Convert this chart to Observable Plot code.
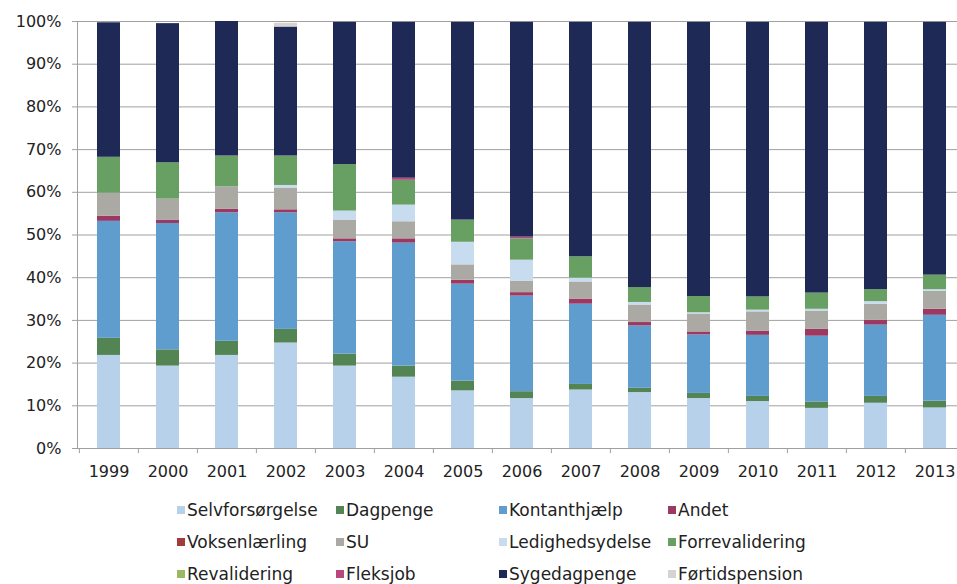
<!DOCTYPE html>
<html>
<head>
<meta charset="utf-8">
<script src="https://cdn.jsdelivr.net/npm/d3@7"></script>
<script src="https://cdn.jsdelivr.net/npm/@observablehq/plot@0.6"></script>
<style>
  html, body { margin: 0; padding: 0; background: #fff; overflow: hidden; }
  #wrap { position: relative; width: 957px; height: 584px; font-family: "DejaVu Sans", Verdana, sans-serif; }
  #legend { position: absolute; left: 177px; top: 494px; display: grid;
    grid-template-columns: 159px 163px 169px 160px; grid-auto-rows: 32px;
    font-size: 17px; color: #222; }
  .item { display: flex; align-items: center; white-space: nowrap; }
  .sw { width: 8px; height: 8px; margin-right: 2px; flex: none; }
</style>
</head>
<body>
<div id="wrap">
  <div id="chart"></div>
  <div id="legend"></div>
</div>
<script>
const years = ["1999","2000","2001","2002","2003","2004","2005","2006","2007","2008","2009","2010","2011","2012","2013"];

const seriesNames = ["Selvforsørgelse","Dagpenge","Kontanthjælp","Andet","Voksenlærling","SU","Ledighedsydelse","Forrevalidering","Revalidering","Fleksjob","Sygedagpenge","Førtidspension"];
const seriesColors = ["#b8d1ea","#538453","#5f9dcf","#9b3963","#a03c3c","#aaa9a4","#c8dcf0","#68a063","#9bb766","#b8467f","#1f2955","#d4d4d0"];

// values in percent, one per year
const selvforsorgelse = [21.8,19.3,21.8,24.7,19.3,16.7,13.5,11.7,13.7,13.1,11.7,11.0,9.4,10.6,9.5];
const dagpenge        = [4.0,3.8,3.3,3.2,2.8,2.6,2.3,1.6,1.3,1.0,1.2,1.2,1.5,1.6,1.6];
const kontanthjaelp   = [27.4,29.6,30.1,27.3,26.3,28.8,22.7,22.4,18.8,14.6,13.7,14.3,15.4,16.7,20.1];
const andet           = [1.2,0.8,0.8,0.7,0.7,1.0,0.9,0.8,1.2,0.8,0.7,1.0,1.6,1.1,1.4];
const voksenlaerling  = [0,0,0,0,0,0,0,0,0,0,0,0,0,0,0];
const su              = [5.4,4.9,5.3,5.1,4.4,4.0,3.6,2.7,4.0,4.1,4.2,4.5,4.3,3.8,4.2];
const ledighedsydelse = [0,0,0,0.6,2.1,3.9,5.3,4.9,0.9,0.6,0.3,0.4,0.4,0.6,0.4];
const forrevalidering = [8.4,8.5,7.2,6.9,10.9,5.8,5.2,5.0,5.0,3.5,3.8,3.1,3.8,2.8,3.4];
const revalidering    = [0,0,0,0,0,0,0,0,0,0,0,0,0,0,0];
const fleksjob        = [0,0,0,0,0,0.5,0,0.4,0,0,0,0,0,0,0];
const sygedagpenge    = [31.5,32.6,31.5,30.2,33.3,36.5,46.3,50.3,54.9,62.1,64.2,64.3,63.4,62.6,59.2];
const fortidspension  = [0,0,0,0.9,0,0,0,0,0,0,0,0,0,0,0];

const yTicks = [0,10,20,30,40,50,60,70,80,90,100];
const yTickLabels = ["0%","10%","20%","30%","40%","50%","60%","70%","80%","90%","100%"];

const seriesValues = [selvforsorgelse,dagpenge,kontanthjaelp,andet,voksenlaerling,su,ledighedsydelse,forrevalidering,revalidering,fleksjob,sygedagpenge,fortidspension];

const table = [];
seriesNames.forEach((s, i) => {
  years.forEach((y, j) => table.push({year: y, series: s, value: seriesValues[i][j]}));
});

const step = 59.2;
const grey = "#a0a0a0";

const plot = Plot.plot({
  width: 957,
  height: 490,
  marginTop: 21,
  marginBottom: 42,
  marginLeft: 77,
  marginRight: 0,
  style: {fontFamily: "'DejaVu Sans', Verdana, sans-serif", fontSize: "16px", color: "#222", overflow: "visible"},
  x: {domain: years, range: [78, 78 + step * years.length], paddingInner: 0.61, paddingOuter: 0.305, label: null},
  y: {domain: [0, 100], label: null},
  color: {domain: seriesNames, range: seriesColors},
  marks: [
    Plot.gridY(yTicks, {stroke: grey, strokeOpacity: 1}),
    Plot.barY(table, {x: "year", y: "value", z: "series", fill: "series", order: seriesNames}),
    Plot.frame({anchor: "left", stroke: grey}),
    Plot.frame({anchor: "bottom", stroke: grey}),
    Plot.ruleX(years, {x: d => d, dx: -step / 2, y1: 0, y2: -1.2, stroke: grey}),
    Plot.axisY(yTicks, {tickSize: 5, tickPadding: 11, tickFormat: (d) => yTickLabels[yTicks.indexOf(d)], stroke: grey, fill: "#222", label: null, fontSize: 16, letterSpacing: 1}),
    Plot.axisX(years, {tickSize: 0, tickPadding: 17, fill: "#222", label: null, fontSize: 16, letterSpacing: 1})
  ]
});
document.getElementById("chart").appendChild(plot);

const legend = document.getElementById("legend");
seriesNames.forEach((s, i) => {
  const it = document.createElement("div");
  it.className = "item";
  const sw = document.createElement("span");
  sw.className = "sw";
  sw.style.background = seriesColors[i];
  const tx = document.createElement("span");
  tx.textContent = s;
  it.appendChild(sw); it.appendChild(tx);
  legend.appendChild(it);
});
</script>
</body>
</html>
